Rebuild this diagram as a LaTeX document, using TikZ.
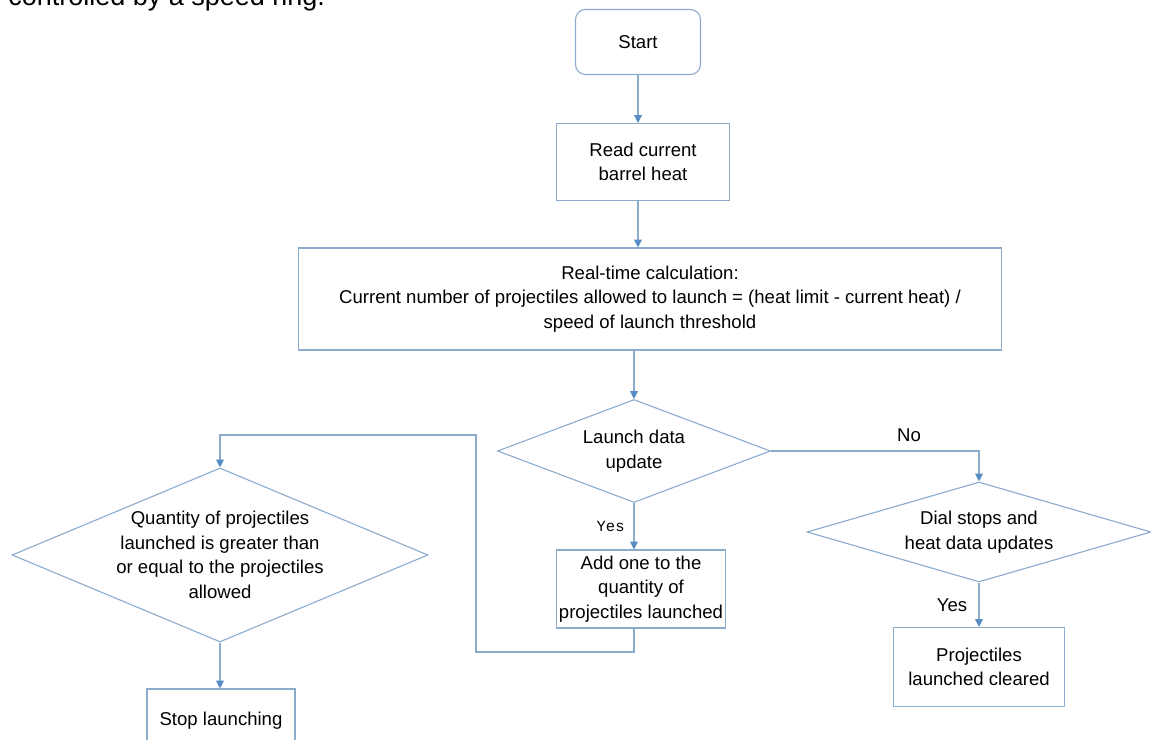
\documentclass[tikz,border=0pt]{standalone}
\usepackage{fontspec}
\setmainfont{Liberation Sans}
\newfontfamily\yesfont{Liberation Mono}
\usetikzlibrary{shapes.geometric,arrows.meta}
\definecolor{flowline}{RGB}{140,172,205}
\definecolor{flowtip}{RGB}{88,140,196}
\begin{document}
\begin{tikzpicture}[x=0.025cm,y=-0.025cm,
    every node/.style={font=\fontsize{13.2pt}{17.5pt}\selectfont},
    procbox/.style={draw=flowline,line width=0.8pt,rectangle,align=center,inner sep=0pt},
    startbox/.style={procbox,rounded corners=0.25cm},
    decide/.style={draw=flowline,line width=0.8pt,diamond,align=center,inner sep=0pt},
    arr/.style={draw=flowline,line width=0.8pt,-{Triangle[width=5.5pt,length=5.5pt,color=flowtip]}},
    flow/.style={draw=flowline,line width=0.8pt}]
    \useasboundingbox (0,0) rectangle (1151,740);

    % caption line cut at the top
    \node[anchor=base west,inner sep=0pt,font=\fontsize{19.2pt}{22pt}\selectfont] (cap) at (8,5.5) {controlled by a speed ring.};

    % main column
    \node[startbox,minimum width=125*0.025cm,minimum height=65*0.025cm] (start) at (638,42) {Start};
    \node[procbox,minimum width=173*0.025cm,minimum height=77*0.025cm] (read) at (643,162) {Read current\\barrel heat};
    \node[procbox,minimum width=703*0.025cm,minimum height=102*0.025cm] (calc) at (650,299)
          {Real-time calculation:\\Current number of projectiles allowed to launch = (heat limit - current heat) /\\speed of launch threshold};
    \node[decide,aspect=2.65,minimum width=273*0.025cm,minimum height=103*0.025cm] (upd) at (634,451) {Launch data\\update};
    \node[procbox,minimum width=169*0.025cm,minimum height=78*0.025cm] (add) at (641,589) {Add one to the\\quantity of\\projectiles launched};

    % left branch
    \node[decide,aspect=2.39,inner sep=-3pt,minimum width=416*0.025cm,minimum height=174*0.025cm] (qty) at (220,555)
          {Quantity of projectiles\\launched is greater than\\or equal to the projectiles\\allowed};
    \node[procbox,minimum width=148*0.025cm,minimum height=64*0.025cm] (stop) at (221,721) {Stop launching};

    % right branch
    \node[decide,aspect=3.44,minimum width=344*0.025cm,minimum height=100*0.025cm] (dial) at (979,532) {Dial stops and\\heat data updates};
    \node[procbox,minimum width=171*0.025cm,minimum height=79*0.025cm] (clear) at (979,667) {Projectiles\\launched cleared};

    \coordinate (loopup) at (476,435);
    \coordinate (loopdn) at (476,652);

    \draw[arr] (start.south) -- (start.south |- read.north);
    \draw[arr] (start.south |- read.south) -- (start.south |- calc.north);
    \draw[arr] (upd.north |- calc.south) -- (upd.north);
    \draw[arr] (upd.south) -- (upd.south |- add.north)
        node[pos=0.5,left=3pt,font=\yesfont\fontsize{11pt}{13pt}\selectfont] (yes1) {Yes};
    \draw[arr] (upd.south |- add.south) |- (loopdn) -- (loopup) -- (qty.north |- loopup) -- (qty.north);
    \draw[arr] (qty.south) -- (qty.south |- stop.north);
    \draw[arr] (upd.east) -| (dial.north);
    \node (no) at (909,435) {No};
    \draw[arr] (dial.south) -- (clear.north);
    \node (yes2) at (952,605) {Yes};
\end{tikzpicture}
\end{document}
